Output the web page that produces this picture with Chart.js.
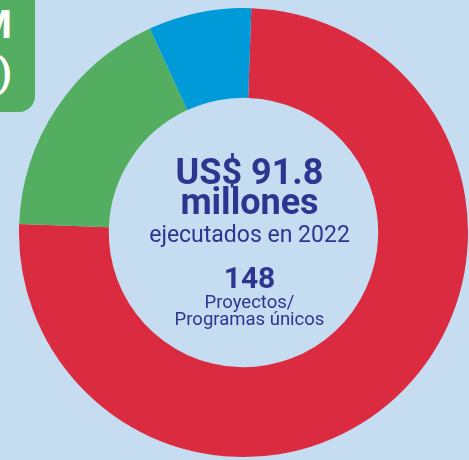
<!DOCTYPE html>
<html>
<head>
<meta charset="utf-8">
<script src="https://cdn.jsdelivr.net/npm/chart.js@4.4.0/dist/chart.umd.min.js"></script>
<style>
  html, body { margin: 0; padding: 0; }
  body { width: 469px; height: 460px; overflow: hidden; background: #c6dcf0; position: relative; font-family: Roboto, "Noto Sans", sans-serif; }
  #tag { position: absolute; left: -40px; top: -20px; width: 75px; height: 132px; background: #53ae61; border-radius: 16px; color: #fff; font-weight: bold; text-align: right; }
  #tag span { position: absolute; right: 23px; font-size: 39px; line-height: 1; }
  #wrap { position: absolute; left: 19px; top: 8px; width: 449px; height: 449px; }
  .t { position: absolute; left: 99.5px; width: 300px; text-align: center; color: #2e3590; line-height: 1; white-space: nowrap; }
</style>
</head>
<body>
<div id="tag"><span style="top:26px">M</span><span style="top:74px">)</span></div>
<div id="wrap"><canvas id="myChart"></canvas></div>
<div class="t" style="top:154px;font-size:36px;font-weight:bold">US$ 91.8</div>
<div class="t" style="top:183.5px;font-size:36px;font-weight:bold">millones</div>
<div class="t" style="top:222.5px;font-size:23px">ejecutados en 2022</div>
<div class="t" style="top:263px;font-size:30px;font-weight:bold">148</div>
<div class="t" style="top:292.7px;font-size:18.5px">Proyectos/</div>
<div class="t" style="top:310.1px;font-size:18.5px">Programas únicos</div>
<script>
// millones de US$ por segmento
const labels = ['Rojo', 'Verde', 'Azul'];
const values = [68.9, 16.1, 6.8];
const colors = ['#db2b40', '#53ae61', '#009ad9'];

const ctx = document.getElementById('myChart');

new Chart(ctx, {
  type: 'doughnut',
  data: {
    labels: labels,
    datasets: [{
      data: values,
      backgroundColor: colors,
      borderWidth: 0,
    }]
  },
  options: {
    responsive: true,
    maintainAspectRatio: false,
    animation: false,
    cutout: '60%',
    rotation: 2,
    layout: { padding: 0 },
    plugins: {
      legend: { display: false },
      tooltip: { enabled: false }
    }
  }
});
</script>
</body>
</html>
